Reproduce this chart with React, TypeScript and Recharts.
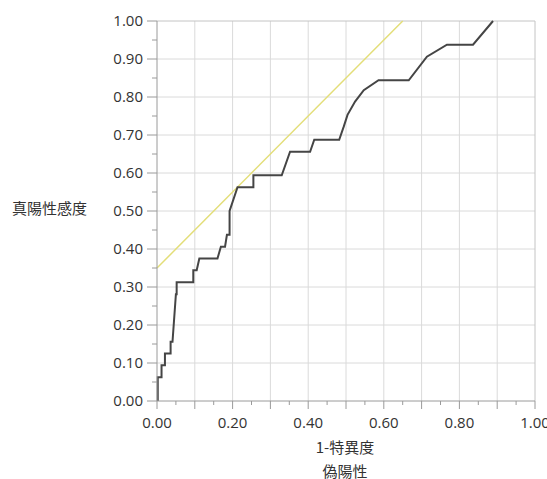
import { LineChart, Line, XAxis, YAxis, ReferenceLine } from 'recharts'

// ROC curve (1 - specificity, sensitivity)
const fpr = [
  0.002, 0.002, 0.012, 0.012, 0.021, 0.021, 0.036, 0.036, 0.041, 0.05, 0.052, 0.052,
  0.096, 0.096, 0.105, 0.112, 0.16, 0.169, 0.18, 0.185, 0.192, 0.192, 0.213, 0.255,
  0.255, 0.33, 0.352, 0.405, 0.416, 0.482, 0.494, 0.504, 0.524, 0.547, 0.586, 0.666,
  0.714, 0.767, 0.836, 0.889,
]
const tpr = [
  0, 0.0625, 0.0625, 0.094, 0.094, 0.125, 0.125, 0.156, 0.156, 0.281, 0.281, 0.3125,
  0.3125, 0.344, 0.344, 0.375, 0.375, 0.406, 0.406, 0.4375, 0.4375, 0.5, 0.5625, 0.5625,
  0.594, 0.594, 0.656, 0.656, 0.6875, 0.6875, 0.722, 0.753, 0.788, 0.818, 0.844, 0.844,
  0.906, 0.9375, 0.9375, 1.0,
]

// tangent line (slope 1)
const tangentX = [0, 0.65]
const tangentY = [0.35, 1.0]

const axisTicks = [
  0, 0.05, 0.1, 0.15, 0.2, 0.25, 0.3, 0.35, 0.4, 0.45, 0.5, 0.55, 0.6, 0.65, 0.7, 0.75,
  0.8, 0.85, 0.9, 0.95, 1.0,
]
const gridValues = [0.1, 0.2, 0.3, 0.4, 0.5, 0.6, 0.7, 0.8, 0.9]

const xTitle = '1-特異度'
const xSubTitle = '偽陽性'
const yTitle = '真陽性感度'

const rocData = fpr.map((x, i) => ({ x, y: tpr[i] }))
const tangentData = tangentX.map((x, i) => ({ x, y: tangentY[i] }))

const NUM_FONT = '"Open Sans", "Noto Sans", sans-serif'
const JP_FONT = '"Noto Sans CJK JP", sans-serif'
const TEXT = '#333'
const AXIS = '#9a9a9a'

function XTick({ x, y, payload }: { x?: number; y?: number; payload?: { value: number } }) {
  const v = payload!.value
  const k = Math.round(v * 20)
  const major = k % 2 === 0
  const labeled = k % 4 === 0
  return (
    <g>
      <line x1={x} x2={x} y1={y} y2={y! + (major ? 8 : 4)} stroke={AXIS} />
      {labeled && (
        <text x={x} y={y! + 27} textAnchor="middle" fontSize={15} fontFamily={NUM_FONT} fill={TEXT}>
          {v.toFixed(2)}
        </text>
      )}
    </g>
  )
}

function YTick({ x, y, payload }: { x?: number; y?: number; payload?: { value: number } }) {
  const v = payload!.value
  const k = Math.round(v * 20)
  const major = k % 2 === 0
  return (
    <g>
      <line x1={x! - (major ? 10 : 5)} x2={x} y1={y} y2={y} stroke={AXIS} />
      {major && (
        <text x={x! - 14} y={y! + 5} textAnchor="end" fontSize={15} fontFamily={NUM_FONT} fill={TEXT}>
          {v.toFixed(2)}
        </text>
      )}
    </g>
  )
}

export default function App() {
  return (
    <div style={{ position: 'absolute', left: 0, top: 0, background: '#fff' }}>
      <LineChart width={547} height={479} margin={{ top: 21, right: 12, bottom: 0, left: 0 }}>
        <XAxis
          type="number"
          dataKey="x"
          domain={[0, 1]}
          ticks={axisTicks}
          interval={0}
          tickLine={false}
          tickSize={0}
          tickMargin={0}
          tick={<XTick />}
          axisLine={{ stroke: AXIS }}
          height={78}
          label={{
            content: () => (
              <g fontFamily={JP_FONT} fontSize={15} fill={TEXT} textAnchor="middle">
                <text x={345} y={453}>{xTitle}</text>
                <text x={345} y={477}>{xSubTitle}</text>
              </g>
            ),
          }}
        />
        <YAxis
          type="number"
          dataKey="y"
          domain={[0, 1]}
          ticks={axisTicks}
          interval={0}
          tickLine={false}
          tickSize={0}
          tickMargin={0}
          tick={<YTick />}
          axisLine={{ stroke: AXIS }}
          width={157}
          label={{
            content: () => (
              <text x={12} y={214} fontFamily={JP_FONT} fontSize={15} fill={TEXT}>
                {yTitle}
              </text>
            ),
          }}
        />
        {gridValues.map(v => (
          <ReferenceLine key={'gx' + v} x={v} stroke="#dadada" />
        ))}
        {gridValues.map(v => (
          <ReferenceLine key={'gy' + v} y={v} stroke="#dadada" />
        ))}
        <ReferenceLine x={1} stroke="#c4c4c4" />
        <ReferenceLine y={1} stroke="#c4c4c4" />
        <Line
          data={tangentData}
          dataKey="y"
          type="linear"
          stroke="#e3de78"
          strokeWidth={1.5}
          dot={false}
          activeDot={false}
          isAnimationActive={false}
        />
        <Line
          data={rocData}
          dataKey="y"
          type="linear"
          stroke="#454545"
          strokeWidth={2}
          dot={false}
          activeDot={false}
          isAnimationActive={false}
        />
      </LineChart>
    </div>
  )
}
